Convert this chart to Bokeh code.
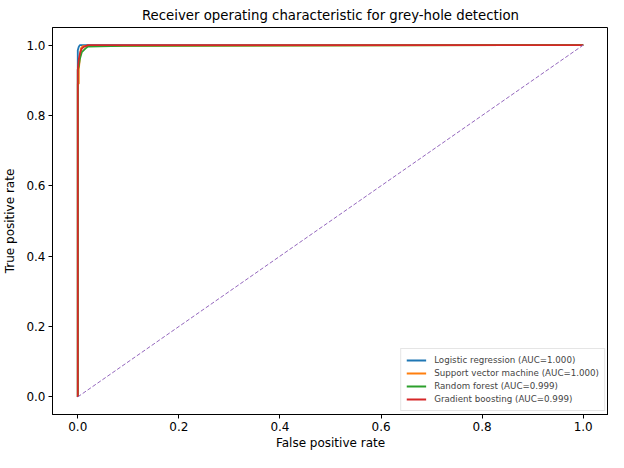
from bokeh.plotting import figure
from bokeh.models import FixedTicker, PrintfTickFormatter, Range1d, Legend, LegendItem
from bokeh.embed import file_html
from bokeh.resources import INLINE

# ROC curve points
lr_fpr = [0.0, 0.0, 0.002, 0.004, 1.0]
lr_tpr = [0.0, 0.985, 0.995, 1.0, 1.0]

svm_fpr = [0.0, 0.0, 0.002, 0.002, 0.004, 0.006, 0.01, 0.096, 1.0]
svm_tpr = [0.0, 0.89, 0.89, 0.93, 0.96, 0.99, 0.997, 0.998, 1.0]

rf_fpr = [0.0, 0.0, 0.002, 0.004, 0.008, 0.015, 0.02, 0.09, 1.0]
rf_tpr = [0.0, 0.93, 0.94, 0.96, 0.98, 0.99, 0.996, 0.998, 1.0]

gb_fpr = [0.0, 0.0, 0.002, 0.005, 0.008, 0.012, 0.02, 1.0]
gb_tpr = [0.0, 0.93, 0.96, 0.98, 0.99, 0.995, 1.0, 1.0]

chance = [0.0, 1.0]

labels = ["Logistic regression (AUC=1.000)",
          "Support vector machine (AUC=1.000)",
          "Random forest (AUC=0.999)",
          "Gradient boosting (AUC=0.999)"]
colors = ["#1f77b4", "#ff7f0e", "#2ca02c", "#d62728"]
ticks = [0.0, 0.2, 0.4, 0.6, 0.8, 1.0]

FONT = "DejaVu Sans"

p = figure(width=608, height=452, output_backend="svg", toolbar_location=None,
           x_range=Range1d(-0.05, 1.05), y_range=Range1d(-0.05, 1.05),
           title="Receiver operating characteristic for grey-hole detection",
           min_border=0, min_border_left=40, min_border_right=0, min_border_top=6,
           min_border_bottom=0)

p.title.align = "center"
p.title.text_font = FONT
p.title.text_font_size = "13.3px"
p.title.text_font_style = "normal"
p.title.text_color = "black"

p.xgrid.visible = False
p.ygrid.visible = False
p.outline_line_color = "black"
p.outline_line_width = 1
p.outline_line_alpha = 1

for ax in (p.xaxis[0], p.yaxis[0]):
    ax.ticker = FixedTicker(ticks=ticks)
    ax.formatter = PrintfTickFormatter(format="%.1f")
    ax.major_tick_in = 0
    ax.major_tick_out = 4
    ax.minor_tick_line_color = None
    ax.major_label_standoff = 3
    ax.major_label_text_font = FONT
    ax.major_label_text_font_size = "12px"
    ax.major_label_text_color = "black"
    ax.axis_label_text_font = FONT
    ax.axis_label_text_font_size = "12px"
    ax.axis_label_text_font_style = "normal"
    ax.axis_label_text_color = "black"
    ax.axis_line_color = "black"
    ax.major_tick_line_color = "black"

p.xaxis.axis_label = "False positive rate"
p.yaxis.axis_label = "True positive rate"
p.xaxis.axis_label_standoff = 2
p.yaxis.axis_label_standoff = 6

r1 = p.line(lr_fpr, lr_tpr, line_color=colors[0], line_width=1.8)
r2 = p.line(svm_fpr, svm_tpr, line_color=colors[1], line_width=1.8)
r3 = p.line(rf_fpr, rf_tpr, line_color=colors[2], line_width=1.8)
r4 = p.line(gb_fpr, gb_tpr, line_color=colors[3], line_width=1.8)
p.line(chance, chance, line_color="#9467bd", line_width=1, line_dash="4 2")

legend = Legend(items=[LegendItem(label=labels[i], renderers=[r])
                       for i, r in enumerate([r1, r2, r3, r4])],
                location="bottom_right")
legend.label_text_font = FONT
legend.label_text_font_size = "8.7px"
legend.label_height = 12
legend.glyph_height = 12
legend.glyph_width = 20
legend.label_standoff = 8
legend.spacing = 1
legend.padding = 5
legend.margin = 3
legend.border_line_color = "#cccccc"
legend.border_line_width = 1
legend.background_fill_alpha = 0.9
p.add_layout(legend)

open("out.html", "w").write(file_html(p, INLINE))
